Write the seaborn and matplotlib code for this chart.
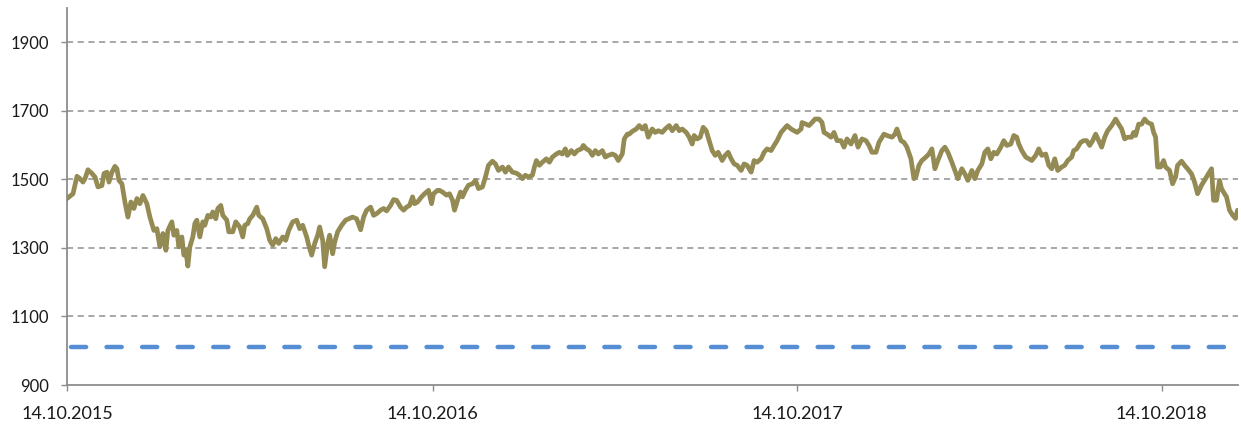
import matplotlib
matplotlib.use("Agg")
import matplotlib.pyplot as plt
import seaborn as sns
import pandas as pd

# ---- data ----
start_date = "2015-10-14"
day_offsets = [
    0, 6, 10, 13, 16, 18, 21, 25, 28, 31, 35, 37, 40, 42, 45, 48, 50, 52, 55, 58,
    61, 64, 67, 70, 73, 76, 80, 83, 87, 90, 93, 96, 99, 101, 105, 107, 110, 112, 115, 117,
    119, 121, 123, 126, 128, 130, 133, 136, 138, 141, 144, 146, 149, 151, 154, 156, 160, 162, 166, 169,
    173, 176, 178, 181,
    183, 186, 190, 192, 196, 200, 203, 206, 209, 212, 216, 219, 222, 226, 230, 233, 236, 240, 242, 245,
    248, 251, 253, 256, 258, 261, 263, 266, 268, 271, 275, 279, 282, 286, 290, 294, 297, 300, 304, 307,
    310, 314, 317, 320, 324, 327, 330, 334, 337, 340, 343, 346, 348, 351, 355, 358, 362, 365, 367, 371,
    373, 376, 380, 383, 386, 388, 391, 394, 396, 399, 402, 406, 409, 412, 416, 419, 422, 426, 429, 432,
    436, 439, 442, 446, 450, 453, 456, 459, 462, 466, 468, 470, 473, 476, 480, 483, 486, 490, 493, 496,
    499, 501, 505, 508, 511, 515, 517, 520, 523, 526, 529, 532, 536, 539, 542, 546, 549, 552, 556, 558,
    561,
    563, 566, 570, 573, 576, 579, 582, 586, 589, 592, 596, 599, 603, 606, 610, 613, 616, 620, 623, 626,
    628, 631, 634, 637, 640, 643, 646, 649, 652, 656, 659, 662, 665, 668, 671, 675, 678, 681, 685, 688,
    691, 695, 698, 701, 705, 708, 711, 715, 718, 721, 725, 728, 731, 735, 736, 740, 743, 746, 749,
    753, 756, 758, 761, 765, 768, 771, 775, 778, 781, 785, 789, 792, 796, 800, 803, 806, 810, 813, 818,
    821, 826, 829, 831, 835, 838, 841, 845, 848, 850, 853, 856, 860, 863, 866, 869, 872, 876, 879, 882,
    886, 889, 892, 896, 899, 902, 906, 909, 912, 916, 919, 922, 925, 928, 931, 935, 938, 941, 945, 948,
    951,
    953, 956, 960, 963, 966, 970, 973, 976, 980, 983, 986, 989, 992, 996, 999, 1002, 1006, 1008, 1011, 1015,
    1018, 1021, 1024, 1027, 1030, 1033, 1036, 1039, 1042, 1046, 1050, 1053, 1056, 1059, 1062, 1066, 1068, 1070, 1073, 1076,
    1079, 1082, 1086, 1088, 1090, 1092, 1095, 1098, 1100, 1104, 1107, 1110, 1112, 1116, 1119, 1122, 1126, 1129, 1132, 1136,
    1139, 1142, 1146, 1148, 1151, 1154, 1156, 1159, 1161, 1164, 1167, 1170, 1172,
]
index_values = [
    1444, 1458, 1509, 1502, 1492, 1502, 1528, 1517, 1507, 1478, 1482, 1517, 1521, 1492, 1521, 1538, 1531, 1497, 1487, 1434,
    1390, 1434, 1415, 1444, 1429, 1453, 1429, 1390, 1351, 1356, 1303, 1342, 1293, 1351, 1376, 1337, 1351, 1303, 1332, 1279,
    1293, 1247, 1303, 1332, 1371, 1381, 1332, 1376, 1366, 1395, 1390, 1405, 1385, 1415, 1424, 1395, 1381, 1347, 1347, 1376,
    1361, 1332, 1366, 1371,
    1385, 1395, 1419, 1395, 1385, 1356, 1322, 1308, 1327, 1313, 1332, 1322, 1351, 1376, 1381, 1356, 1366, 1332, 1308, 1279,
    1313, 1337, 1361, 1322, 1245, 1313, 1337, 1283, 1317, 1347, 1366, 1381, 1385, 1390, 1385, 1353, 1390, 1410, 1419, 1395,
    1400, 1410, 1415, 1408, 1424, 1441, 1439, 1419, 1410, 1419, 1424, 1449, 1429, 1434, 1449, 1458, 1468, 1429, 1458, 1468,
    1468, 1463, 1454, 1458, 1439, 1410, 1439, 1463, 1449, 1468, 1483, 1487, 1497, 1473, 1478, 1507, 1541, 1553, 1545, 1526,
    1536, 1521, 1536, 1521, 1518, 1512, 1502, 1512, 1507, 1512, 1536, 1555, 1541, 1550, 1560, 1550, 1565, 1574, 1579, 1574,
    1589, 1570, 1584, 1574, 1584, 1589, 1599, 1589, 1584, 1570, 1584, 1574, 1584, 1565, 1570, 1574, 1570, 1555, 1574, 1618,
    1632,
    1632, 1640, 1647, 1657, 1647, 1657, 1623, 1647, 1637, 1642, 1637, 1647, 1657, 1642, 1657, 1642, 1647, 1637, 1623, 1603,
    1628, 1618, 1623, 1652, 1642, 1613, 1584, 1570, 1579, 1555, 1570, 1579, 1560, 1545, 1541, 1526, 1545, 1541, 1521, 1555,
    1550, 1560, 1579, 1589, 1584, 1599, 1613, 1637, 1647, 1657, 1647, 1642, 1637, 1647, 1666, 1661, 1657, 1666, 1676,
    1676, 1666, 1637, 1632, 1623, 1637, 1613, 1613, 1594, 1618, 1603, 1628, 1594, 1618, 1613, 1599, 1579, 1579, 1608, 1632,
    1628, 1623, 1632, 1647, 1613, 1608, 1594, 1560, 1502, 1507, 1541, 1555, 1565, 1574, 1589, 1531, 1555, 1584, 1594, 1579,
    1550, 1526, 1502, 1531, 1516, 1497, 1526, 1502, 1526, 1545, 1579, 1589, 1560, 1579, 1574, 1594, 1613, 1599, 1603, 1628,
    1623,
    1603, 1584, 1565, 1560, 1555, 1570, 1589, 1570, 1574, 1541, 1531, 1560, 1526, 1536, 1541, 1555, 1565, 1584, 1589, 1608,
    1613, 1613, 1599, 1613, 1632, 1613, 1594, 1623, 1642, 1657, 1676, 1661, 1647, 1618, 1623, 1623, 1637, 1628, 1661, 1661,
    1676, 1666, 1661, 1637, 1623, 1536, 1536, 1555, 1536, 1526, 1487, 1507, 1541, 1553, 1541, 1531, 1516, 1492, 1458, 1483,
    1497, 1512, 1531, 1439, 1439, 1497, 1473, 1458, 1449, 1410, 1396, 1386, 1410,
]
threshold_value = 1010
y_ticks = [900, 1100, 1300, 1500, 1700, 1900]
x_tick_dates = ["2015-10-14", "2016-10-14", "2017-10-14", "2018-10-14"]
x_tick_labels = ["14.10.2015", "14.10.2016", "14.10.2017", "14.10.2018"]

# ---- build frames ----
dates = pd.Timestamp(start_date) + pd.to_timedelta(day_offsets, unit="D")
df = pd.DataFrame({"date": dates, "value": index_values})
end_date = dates[-1]
df_thr = pd.DataFrame({"date": [pd.Timestamp(start_date) + pd.Timedelta(days=4), end_date - pd.Timedelta(days=14)],
                       "value": [threshold_value, threshold_value]})

sns.set_theme(style="white")
plt.rcParams["font.family"] = ["Lato", "DejaVu Sans"]

fig = plt.figure(figsize=(12.41, 4.25), dpi=100)
ax = fig.add_axes([67 / 1241, 1 - 385 / 425, (1238 - 67) / 1241, (385 - 8) / 425])

ax.set_ylim(900, 2000)
ax.set_xlim(pd.Timestamp(start_date), end_date + pd.Timedelta(days=0.5))
ax.set_yticks(y_ticks)
for yv in y_ticks[1:]:
    ax.axhline(yv, color="#8f8f8f", lw=1.1, ls=(0, (4, 3)), zorder=0)

sns.lineplot(data=df_thr, x="date", y="value", ax=ax, color="#558ED5", lw=3.2,
             linestyle=(0, (3.4, 4.6)), zorder=2)
ax.lines[-1].set_dash_capstyle("round")
sns.lineplot(data=df, x="date", y="value", ax=ax, color="#948A54", lw=3.4, zorder=3)
ax.lines[-1].set_solid_joinstyle("round")

ax.set_xticks([pd.Timestamp(d) for d in x_tick_dates])
ax.set_xticklabels(x_tick_labels)
ax.set_xlabel("")
ax.set_ylabel("")

for s in ["top", "right"]:
    ax.spines[s].set_visible(False)
for s in ["left", "bottom"]:
    ax.spines[s].set_color("#8c8c8c")
    ax.spines[s].set_linewidth(1.3)

ax.tick_params(axis="both", which="both", direction="out", length=4, width=1,
               color="#8c8c8c", labelcolor="#1a1a1a", left=True, bottom=True)
ax.tick_params(axis="y", pad=9, labelsize=12)
ax.tick_params(axis="x", pad=11, labelsize=13)

fig.savefig("out.png", dpi=100)
